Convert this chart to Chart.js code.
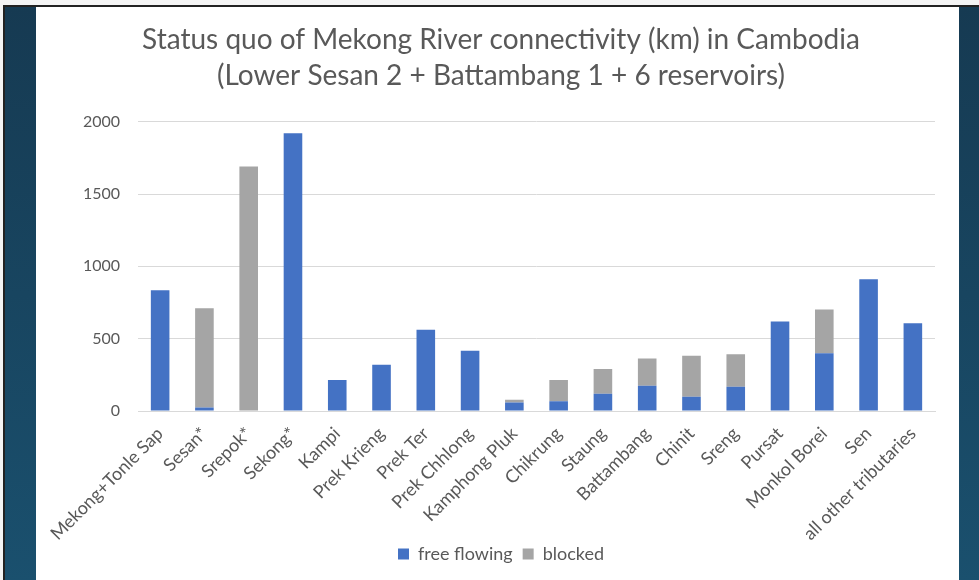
<!DOCTYPE html>
<html>
<head>
<meta charset="utf-8">
<script src="https://cdn.jsdelivr.net/npm/chart.js@4"></script>
<style>
  html, body { margin: 0; padding: 0; background: #f4f4f4; }
  #frame {
    position: absolute; left: 3px; top: 5px; width: 976px; height: 575px;
    border-left: 2px solid #222; border-top: 2px solid #222;
    background: linear-gradient(#163a52, #1a506e);
  }
  #panel {
    position: absolute; left: 36px; top: 7px; width: 923px; height: 573px;
    background: #fff;
  }
</style>
</head>
<body>
<div id="frame"></div>
<div id="panel"><canvas id="myChart" width="923" height="573"></canvas></div>
<script>
let rivers = ['Mekong+Tonle Sap', 'Sesan*', 'Srepok*', 'Sekong*', 'Kampi', 'Prek Krieng', 'Prek Ter', 'Prek Chhlong', 'Kamphong Pluk', 'Chikrung', 'Staung', 'Battambang', 'Chinit', 'Sreng', 'Pursat', 'Monkol Borei', 'Sen', 'all other tributaries']
let freeFlowing = [835, 25, 0, 1920, 215, 320, 562, 417, 58, 68, 120, 174, 99, 167, 618, 400, 910, 606]
let blocked = [0, 685, 1690, 0, 0, 0, 0, 0, 20, 147, 170, 189, 283, 226, 0, 301, 0, 0]
let yTicks = [0, 500, 1000, 1500, 2000]

let textColor = '#595959'
let ctx = document.getElementById('myChart').getContext('2d')

// pulls the legend up a little, closer to the rotated category labels
let legendLift = {
    id: 'legendLift',
    afterLayout(chart) {
        chart.legend.top -= 7
        chart.legend.bottom -= 7
    }
}

let myChart = new Chart(ctx, {
    type: 'bar',
    data: {
        labels: rivers,
        datasets: [{
            label: 'free flowing',
            data: freeFlowing,
            backgroundColor: '#4472C4',
        }, {
            label: 'blocked',
            data: blocked,
            backgroundColor: '#A5A5A5',
        }]
    },
    options: {
        responsive: false,
        animation: false,
        layout: { padding: { left: 7, right: 0, top: 0, bottom: 0 } },
        datasets: { bar: { categoryPercentage: 1, barPercentage: 0.42 } },
        plugins: {
            title: {
                display: true,
                text: ['Status quo of Mekong River connectivity (km) in Cambodia', '(Lower Sesan 2 + Battambang 1 + 6 reservoirs)'],
                color: textColor,
                font: { family: 'Lato', size: 28, weight: 'normal', lineHeight: 1.28 },
                padding: { top: 15, bottom: 28 }
            },
            legend: {
                position: 'bottom',
                labels: {
                    color: textColor,
                    font: { family: 'Lato', size: 18 },
                    boxWidth: 11, boxHeight: 11, padding: 10
                }
            },
            tooltip: { enabled: false }
        },
        scales: {
            x: {
                stacked: true,
                grid: { display: false },
                border: { color: '#d9d9d9' },
                ticks: {
                    color: textColor,
                    font: { family: 'Lato', size: 18 },
                    minRotation: 45, maxRotation: 45, autoSkip: false,
                    padding: 4
                },
                afterFit: function (scale) { scale.height = 131 }
            },
            y: {
                stacked: true,
                min: 0, max: 2000,
                afterBuildTicks: function (scale) { scale.ticks = yTicks.map(v => ({ value: v })) },
                grid: { color: '#d9d9d9', drawTicks: false },
                border: { display: false },
                ticks: {
                    color: textColor,
                    font: { family: 'Lato', size: 16 },
                    padding: 18,
                    callback: v => String(v)
                },
                afterFit: function (scale) { scale.width = 95 }
            },
            // empty right-hand axis, keeps a margin on the right of the plot
            yRight: {
                position: 'right',
                grid: { display: false },
                border: { display: false },
                ticks: { display: false },
                afterFit: function (scale) { scale.width = 24 }
            }
        }
    },
    plugins: [legendLift]
})
</script>
</body>
</html>
